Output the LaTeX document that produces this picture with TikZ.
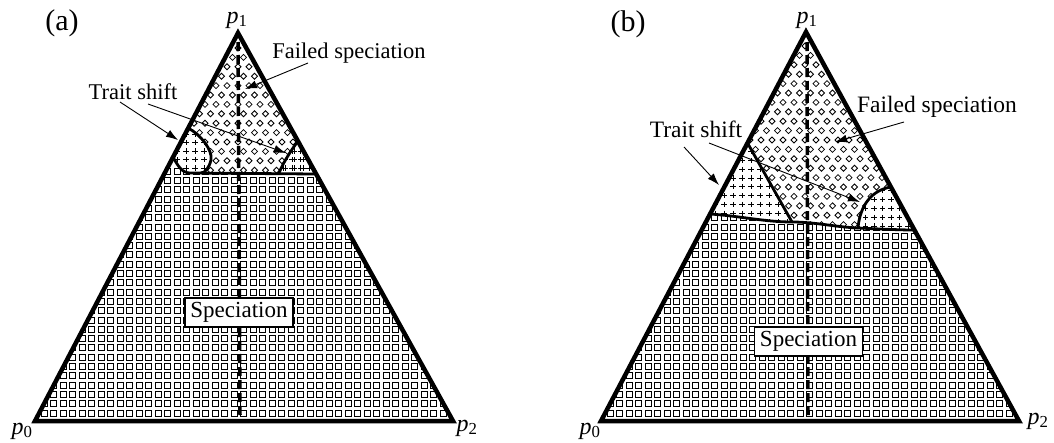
\documentclass[tikz,border=0pt]{standalone}
\usepackage{fontspec}
\setmainfont{Liberation Serif}
\usetikzlibrary{arrows.meta}
\tikzset{
  sqp/.pic={\draw[line width=1pt] (-3,-3) rectangle (3,3);},
  dmp/.pic={\draw[line width=0.8pt] (0,-3) -- (3,0) -- (0,3) -- (-3,0) -- cycle;},
  plp/.pic={\draw[line width=0.8pt] (-2.6,0) -- (2.6,0) (0,-2.6) -- (0,2.6);}
}
\begin{document}
\begin{tikzpicture}[x=1pt,y=-1pt,
  tri/.style={line width=4.5pt, line join=miter},
  bnd/.style={line width=2.8pt, line cap=round, line join=round},
  vdash/.style={line width=3.5pt, dash pattern=on 9pt off 4pt},
  lbl/.style={font=\fontsize{22.5}{24}\selectfont, anchor=base, inner sep=0pt},
  lblb/.style={font=\fontsize{23.5}{25}\selectfont, anchor=base, inner sep=0pt},
  plab/.style={font=\fontsize{24}{26}\selectfont, inner sep=0pt},
  panel/.style={font=\fontsize{30}{32}\selectfont, inner sep=0pt},
  ptr/.style={line width=0.9pt, -{Latex[length=12pt,width=8pt]}},
  spbox/.style={draw, line width=1.2pt, fill=white, font=\fontsize{23}{24}\selectfont, minimum width=108pt, minimum height=29pt, inner sep=1pt}]
\useasboundingbox (0,0) rectangle (1054,442);
\fill[white] (0,0) rectangle (1054,442);

% ---------------- panel (a) ----------------
\coordinate (a0) at (35,421);
\coordinate (a2) at (453,421);
\coordinate (a1) at (238,33);
\coordinate (aL1) at (188,128);
\coordinate (aL2) at (173,157);
\coordinate (aH1) at (190,173);
\coordinate (aJ) at (201,173);
\coordinate (aR2) at (279,173);
\coordinate (aR1) at (298,141);
\coordinate (aH2) at (316,174);

% squares
\begin{scope}
\clip (a0) -- (aL2) .. controls (178,166) and (182,173) .. (aH1) -- (aH2) -- (a2) -- cycle;
\foreach \r in {0,...,26} \foreach \c in {0,...,43}
  \pic at ({44+9.5*\c},{413-9.3*\r}) {sqp};
\end{scope}
% diamonds
\begin{scope}
\clip (a1) -- (aL1) .. controls (200,134) and (213,150) .. (211,160) .. controls (209,168) and (205,173) .. (aJ) -- (aR2) .. controls (283,163) and (290,152) .. (aR1) -- cycle;
\foreach \r [evaluate=\r as \off using {5.5*mod(\r,2)}] in {0,...,14} \foreach \c in {0,...,13}
  \pic at ({172+11*\c+\off},{48+9.4*\r}) {dmp};
\end{scope}
% plus
\begin{scope}
\clip (aL1) -- (aL2) .. controls (178,166) and (182,173) .. (aH1) -- (aJ) .. controls (205,173) and (209,168) .. (211,160) .. controls (213,150) and (200,134) .. (aL1) -- cycle
      (aR1) .. controls (290,152) and (283,163) .. (aR2) -- (aH2) -- cycle;
\foreach \r in {0,...,6} \foreach \c in {0,...,17}
  \pic at ({168+9*\c},{168-8.5*\r}) {plp};
\foreach \r in {0,...,5} \foreach \c in {0,...,6}
  \pic at ({275+8.5*\c},{168-8.5*\r}) {plp};
\end{scope}

\draw[bnd] (aL2) .. controls (178,166) and (182,173) .. (aH1) -- (aH2);
\draw[bnd] (aL1) .. controls (200,134) and (213,150) .. (211,160) .. controls (209,168) and (205,173) .. (aJ);
\draw[bnd] (aR1) .. controls (290,152) and (283,163) .. (aR2);
\draw[vdash] (238,42) -- (240,415);
\draw[tri] (a0) -- (a1) -- (a2) -- cycle;

\node[panel] (pa) at (62,23) {(a)};
\node[plab] (pa1) at (237,20) {\textit{p}\textsubscript{1}};
\node[plab] (pa0) at (22,431) {\textit{p}\textsubscript{0}};
\node[plab] (pa2) at (467,428) {\textit{p}\textsubscript{2}};
\node[lbl] (fsa) at (349,58) {Failed speciation};
\node[lbl] (tsa) at (133,99) {Trait shift};
\node[spbox] (spa) at (239,312.5) {Speciation};

\coordinate (fsaT) at (308,63);
\coordinate (fsaH) at (245,89);
\coordinate (tsa1T) at (120,102);
\coordinate (tsa1H) at (178,140);
\coordinate (tsa2T) at (148,104);
\coordinate (tsa2H) at (286,153);
\draw[ptr] (fsaT) -- (fsaH);
\draw[ptr] (tsa1T) -- (tsa1H);
\draw[ptr] (tsa2T) -- (tsa2H);

% ---------------- panel (b) ----------------
\coordinate (b0) at (601,421);
\coordinate (b2) at (1019,421);
\coordinate (b1) at (806,32);
\coordinate (bT) at (747.5,143);
\coordinate (bA) at (710,214);
\coordinate (bB) at (792,222);
\coordinate (bC) at (858,228);
\coordinate (bD) at (914,230);
\coordinate (bR) at (891,187);

\begin{scope}
\clip (b0) -- (bA) .. controls (740,216) and (765,222) .. (bB) .. controls (815,222) and (835,227) .. (bC) .. controls (880,229) and (900,230) .. (bD) -- (b2) -- cycle;
\foreach \r in {0,...,21} \foreach \c in {0,...,43}
  \pic at ({610+9.5*\c},{413-9.3*\r}) {sqp};
\end{scope}
\begin{scope}
\clip (b1) -- (bT) -- (bB) .. controls (815,222) and (835,227) .. (bC) .. controls (860,205) and (872,190) .. (bR) -- cycle;
\foreach \r [evaluate=\r as \off using {5.5*mod(\r,2)}] in {0,...,20} \foreach \c in {0,...,18}
  \pic at ({706+11*\c+\off},{46+9.4*\r}) {dmp};
\end{scope}
\begin{scope}
\clip (bT) -- (bA) .. controls (740,216) and (765,222) .. (bB) -- cycle
      (bR) .. controls (872,190) and (860,205) .. (bC) .. controls (880,229) and (900,230) .. (bD) -- cycle;
\foreach \r in {0,...,10} \foreach \c in {0,...,10}
  \pic at ({706+9*\c},{222-8.8*\r}) {plp};
\foreach \r in {0,...,5} \foreach \c in {0,...,7}
  \pic at ({857+8.5*\c},{226-8.8*\r}) {plp};
\end{scope}

\draw[bnd] (bA) .. controls (740,216) and (765,222) .. (bB) .. controls (815,222) and (835,227) .. (bC) .. controls (880,229) and (900,230) .. (bD);
\draw[bnd] (bT) -- (bB);
\draw[bnd] (bR) .. controls (872,190) and (860,205) .. (bC);
\draw[vdash] (807,42) -- (808,415);
\draw[tri] (b0) -- (b1) -- (b2) -- cycle;

\node[panel] (pb) at (628,24) {(b)};
\node[plab] (pb1) at (807,20) {\textit{p}\textsubscript{1}};
\node[plab] (pb0) at (590,431) {\textit{p}\textsubscript{0}};
\node[plab] (pb2) at (1038,421) {\textit{p}\textsubscript{2}};
\node[lblb] (fsb) at (937,112) {Failed speciation};
\node[lblb] (tsb) at (696,137) {Trait shift};
\node[spbox] (spb) at (808.5,341.5) {Speciation};

\coordinate (fsbT) at (904,122);
\coordinate (fsbH) at (835,142);
\coordinate (tsb1T) at (684,147);
\coordinate (tsb1H) at (719,185);
\coordinate (tsb2T) at (709,143);
\coordinate (tsb2H) at (860,202);
\draw[ptr] (fsbT) -- (fsbH);
\draw[ptr] (tsb1T) -- (tsb1H);
\draw[ptr] (tsb2T) -- (tsb2H);
\end{tikzpicture}
\end{document}
